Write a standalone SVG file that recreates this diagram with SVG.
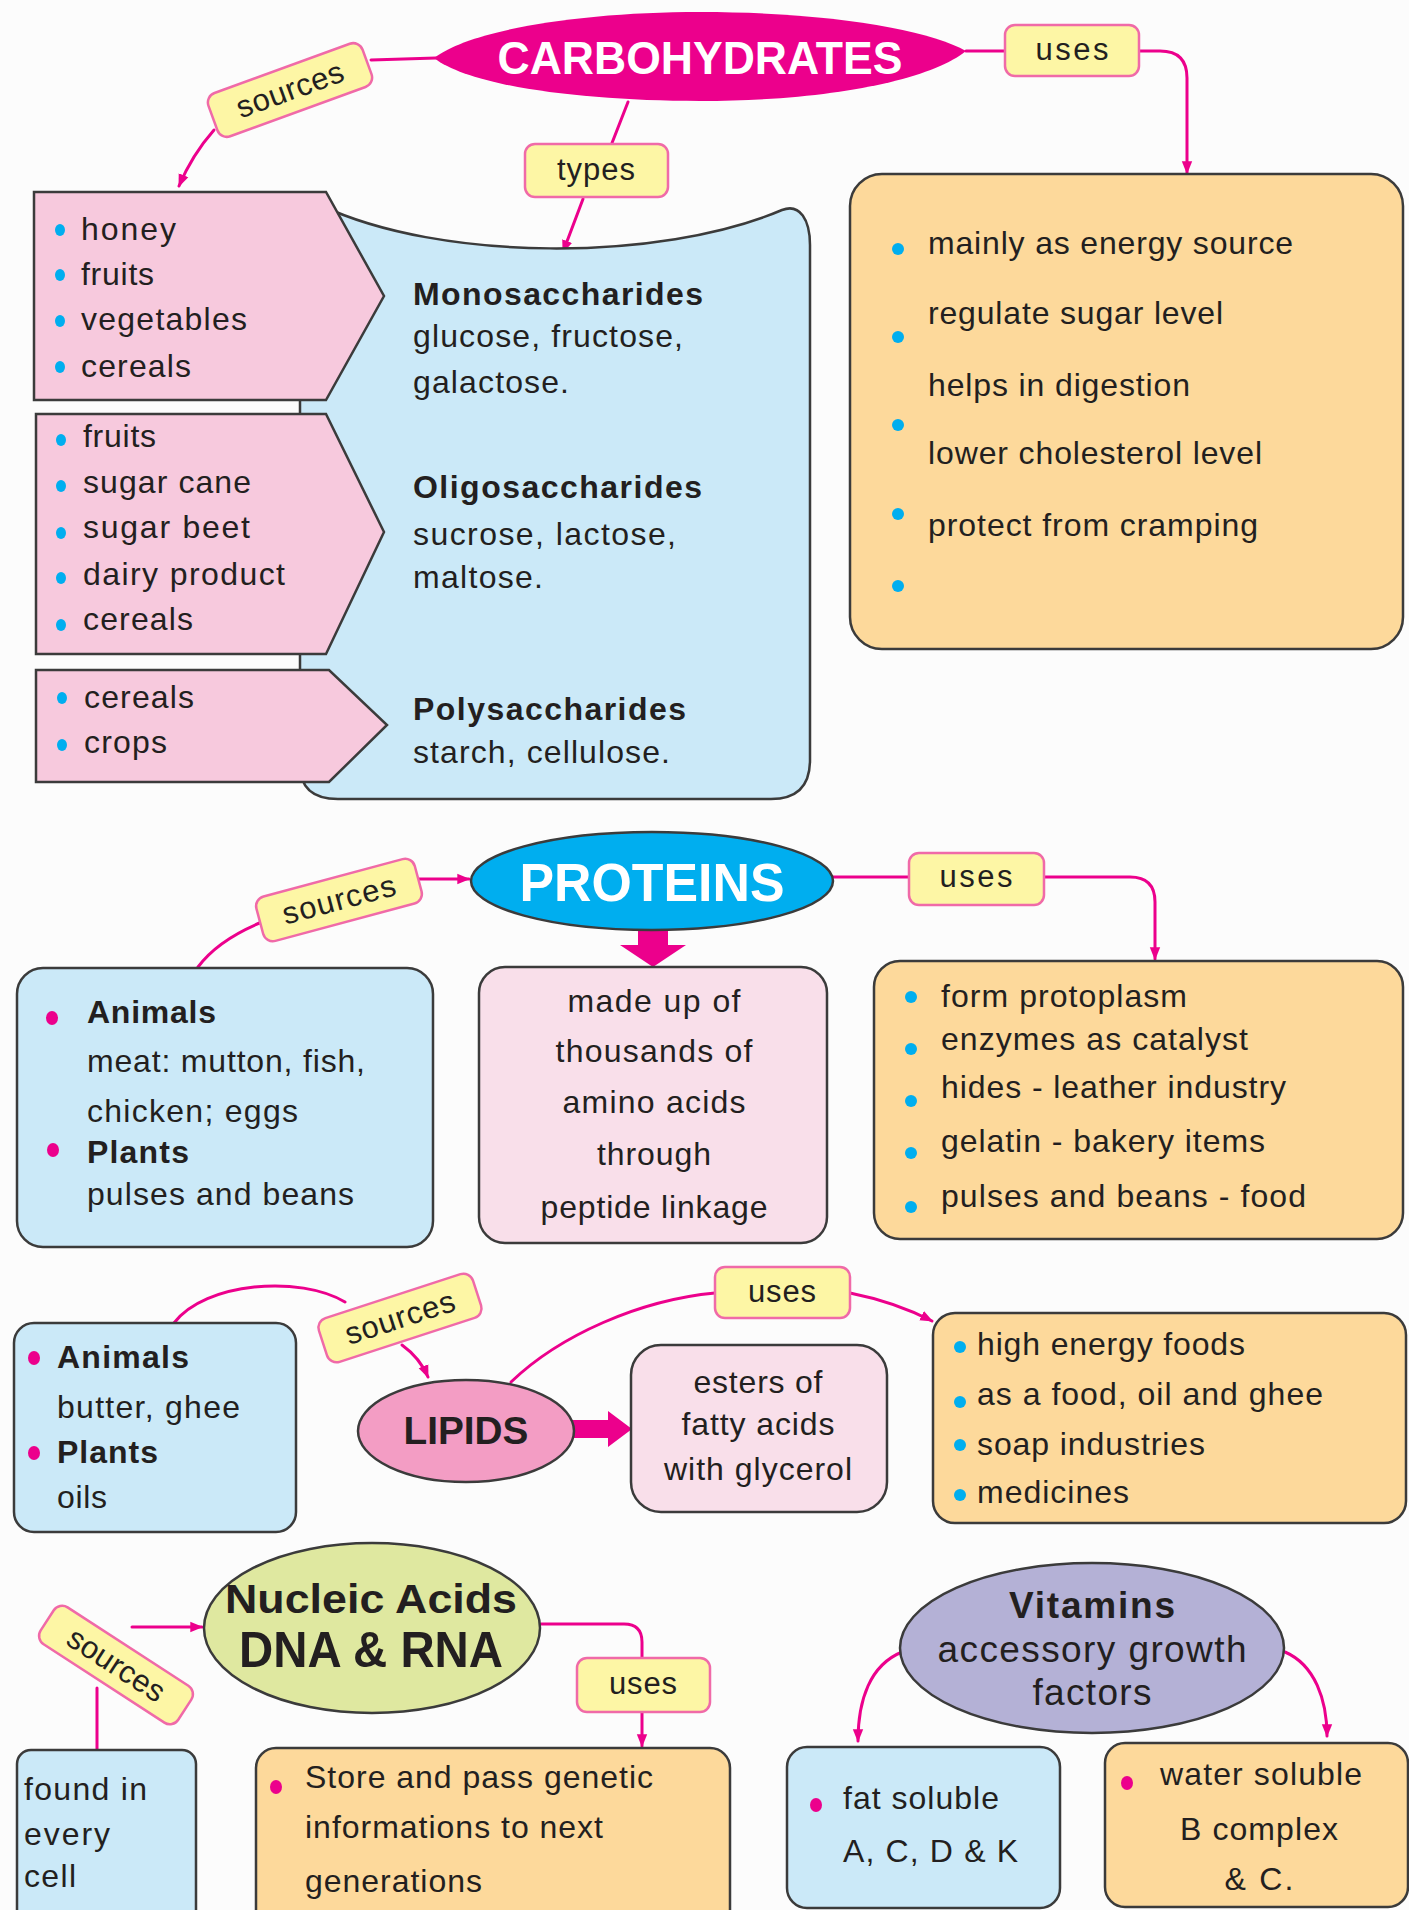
<svg xmlns="http://www.w3.org/2000/svg" width="1409" height="1910" viewBox="0 0 1409 1910">
<defs>
<style>
text { font-family: "Liberation Sans", Arial, Helvetica, sans-serif; fill:#231f20; }
.b { font-weight:bold; }
.c { text-anchor:middle; }
.s30 { font-size:32px; }
.s31 { font-size:32px; }
.conn { fill:none; stroke:#ec008c; stroke-width:3; stroke-linecap:round; }
.box { stroke:#3b3b3b; stroke-width:2.5; }
.blue { fill:#cbe9f8; }
.pink { fill:#f7c9dd; }
.lpink { fill:#f9dfea; }
.orange { fill:#fdd99b; }
.lbl rect { fill:#fdf6a5; stroke:#f06aa8; stroke-width:2.5; }
.lbl text { font-size:31px; text-anchor:middle; }
.cy { fill:#00aeef; }
.mg { fill:#ec008c; }
</style>
<marker id="ah" viewBox="0 0 10 10" refX="9" refY="5" markerWidth="13" markerHeight="13" markerUnits="userSpaceOnUse" orient="auto">
<path d="M0,1 L10,5 L0,9 Z" fill="#ec008c"/>
</marker>
</defs>
<rect width="1409" height="1910" fill="#fcfcfc"/>

<g id="connectors">
<path class="conn" d="M371,60 L436,58"/>
<path class="conn" d="M214,130 Q192,155 179,186" marker-end="url(#ah)"/>
<path class="conn" d="M628,102 L612,143"/>
<path class="conn" d="M583,199 L563,252" marker-end="url(#ah)"/>
<path class="conn" d="M966,51 L1005,51"/>
<path class="conn" d="M1139,51 L1160,51 Q1187,51 1187,78 L1187,173" marker-end="url(#ah)"/>
<path class="conn" d="M419,879 L469,879" marker-end="url(#ah)"/>
<path class="conn" d="M262,922 Q218,940 198,967"/>
<path class="conn" d="M832,877 L909,877"/>
<path class="conn" d="M1044,877 L1130,877 Q1155,877 1155,902 L1155,959" marker-end="url(#ah)"/>
<path class="mg" d="M638,929 L668,929 L668,945 L686,945 L653,967 L620,945 L638,945 Z"/>
<path class="conn" d="M174,1323 C205,1282 300,1275 345,1302"/>
<path class="conn" d="M402,1345 Q420,1358 428,1377" marker-end="url(#ah)"/>
<path class="conn" d="M511,1382 C560,1335 640,1300 715,1293"/>
<path class="conn" d="M850,1293 Q895,1302 932,1321" marker-end="url(#ah)"/>
<path class="mg" d="M572,1420 L608,1420 L608,1411 L632,1429 L608,1447 L608,1438 L572,1438 Z"/>
<path class="conn" d="M132,1627 L202,1627" marker-end="url(#ah)"/>
<path class="conn" d="M97,1688 L97,1750"/>
<path class="conn" d="M541,1624 L624,1624 Q642,1624 642,1642 L642,1658"/>
<path class="conn" d="M642,1712 L642,1746" marker-end="url(#ah)"/>
<path class="conn" d="M902,1652 C870,1665 858,1700 858,1741" marker-end="url(#ah)"/>
<path class="conn" d="M1285,1652 C1315,1665 1327,1700 1327,1736" marker-end="url(#ah)"/>
</g>

<g id="carbohydrates">
<path d="M434,58 C470,30 580,12 700,12 C830,12 930,30 966,51 C930,80 830,101 700,101 C580,101 470,86 434,58 Z" fill="#ec008c"/>
<text class="b c" x="700" y="74" font-size="46" textLength="405" lengthAdjust="spacingAndGlyphs" style="fill:#ffffff">CARBOHYDRATES</text>
</g>

<g id="carb-sources-label" class="lbl" transform="translate(290,90) rotate(-20)">
<rect x="-82" y="-23" width="164" height="46" rx="10"/>
<text y="10" textLength="112">sources</text>
</g>
<g id="carb-types-label" class="lbl">
<rect x="525" y="144" width="143" height="53" rx="10"/>
<text x="596" y="180" textLength="78">types</text>
</g>
<g id="carb-uses-label" class="lbl">
<rect x="1005" y="25" width="134" height="51" rx="10"/>
<text x="1072" y="60" textLength="73">uses</text>
</g>

<g id="carb-types">
<path class="box blue" d="M320,205 C440,262 660,262 782,210 C800,203 810,220 810,245 L810,760 Q810,799 771,799 L338,799 Q300,799 300,765 L300,205 Z"/>
<text class="b s31" x="413" y="305" textLength="290">Monosaccharides</text>
<text class="s31" x="413" y="347" textLength="270">glucose, fructose,</text>
<text class="s31" x="413" y="393" textLength="156">galactose.</text>
<text class="b s31" x="413" y="498" textLength="289">Oligosaccharides</text>
<text class="s31" x="413" y="545" textLength="263">sucrose, lactose,</text>
<text class="s31" x="413" y="588" textLength="130">maltose.</text>
<text class="b s31" x="413" y="720" textLength="273">Polysaccharides</text>
<text class="s31" x="413" y="763" textLength="257">starch, cellulose.</text>
</g>

<g id="carb-src-mono">
<path class="box pink" d="M34,192 L326,192 L384,296 L326,400 L34,400 Z"/>
<ellipse class="cy" cx="60" cy="230" rx="5" ry="6"/>
<ellipse class="cy" cx="60" cy="275" rx="5" ry="6"/>
<ellipse class="cy" cx="60" cy="321" rx="5" ry="6"/>
<ellipse class="cy" cx="60" cy="367" rx="5" ry="6"/>
<text class="s31" x="81" y="240" textLength="95">honey</text>
<text class="s31" x="81" y="285" textLength="73">fruits</text>
<text class="s31" x="81" y="330" textLength="166">vegetables</text>
<text class="s31" x="81" y="377" textLength="110">cereals</text>
</g>

<g id="carb-src-oligo">
<path class="box pink" d="M36,414 L326,414 L384,532 L326,654 L36,654 Z"/>
<ellipse class="cy" cx="61" cy="440" rx="5" ry="6"/>
<ellipse class="cy" cx="61" cy="486" rx="5" ry="6"/>
<ellipse class="cy" cx="61" cy="533" rx="5" ry="6"/>
<ellipse class="cy" cx="61" cy="578" rx="5" ry="6"/>
<ellipse class="cy" cx="61" cy="625" rx="5" ry="6"/>
<text class="s31" x="83" y="447" textLength="73">fruits</text>
<text class="s31" x="83" y="493" textLength="168">sugar cane</text>
<text class="s31" x="83" y="538" textLength="167">sugar beet</text>
<text class="s31" x="83" y="585" textLength="202">dairy product</text>
<text class="s31" x="83" y="630" textLength="110">cereals</text>
</g>

<g id="carb-src-poly">
<path class="box pink" d="M36,670 L329,670 L387,725 L329,782 L36,782 Z"/>
<ellipse class="cy" cx="62" cy="698" rx="5" ry="6"/>
<ellipse class="cy" cx="62" cy="745" rx="5" ry="6"/>
<text class="s31" x="84" y="708" textLength="110">cereals</text>
<text class="s31" x="84" y="753" textLength="83">crops</text>
</g>

<g id="carb-uses">
<rect class="box orange" x="850" y="174" width="553" height="475" rx="32"/>
<circle class="cy" cx="898" cy="249" r="6"/>
<circle class="cy" cx="898" cy="337" r="6"/>
<circle class="cy" cx="898" cy="425" r="6"/>
<circle class="cy" cx="898" cy="514" r="6"/>
<circle class="cy" cx="898" cy="586" r="6"/>
<text class="s30" x="928" y="254" textLength="365">mainly as energy source</text>
<text class="s30" x="928" y="324" textLength="295">regulate sugar level</text>
<text class="s30" x="928" y="396" textLength="262">helps in digestion</text>
<text class="s30" x="928" y="464" textLength="334">lower cholesterol level</text>
<text class="s30" x="928" y="536" textLength="330">protect from cramping</text>
</g>

<g id="proteins">
<ellipse class="box" cx="652" cy="881" rx="181" ry="49" fill="#00aeef"/>
<text class="b c" x="652" y="901" font-size="54" textLength="265" lengthAdjust="spacingAndGlyphs" style="fill:#ffffff">PROTEINS</text>
</g>
<g id="prot-sources-label" class="lbl" transform="translate(339,900) rotate(-15)">
<rect x="-82" y="-23" width="164" height="46" rx="10"/>
<text y="10" textLength="116">sources</text>
</g>
<g id="prot-uses-label" class="lbl">
<rect x="909" y="853" width="135" height="52" rx="10"/>
<text x="976" y="887" textLength="73">uses</text>
</g>

<g id="prot-sources">
<rect class="box blue" x="17" y="968" width="416" height="279" rx="26"/>
<ellipse class="mg" cx="52" cy="1018" rx="6" ry="7"/>
<ellipse class="mg" cx="53" cy="1150" rx="6" ry="7"/>
<text class="b s30" x="87" y="1023" textLength="129">Animals</text>
<text class="s30" x="87" y="1072" textLength="278">meat: mutton, fish,</text>
<text class="s30" x="87" y="1122" textLength="211">chicken; eggs</text>
<text class="b s30" x="87" y="1163" textLength="102">Plants</text>
<text class="s30" x="87" y="1205" textLength="267">pulses and beans</text>
</g>

<g id="prot-made">
<rect class="box lpink" x="479" y="967" width="348" height="276" rx="26"/>
<text class="s30 c" x="654" y="1012" textLength="173">made up of</text>
<text class="s30 c" x="654" y="1062" textLength="197">thousands of</text>
<text class="s30 c" x="654" y="1113" textLength="183">amino acids</text>
<text class="s30 c" x="654" y="1165" textLength="114">through</text>
<text class="s30 c" x="654" y="1218" textLength="227">peptide linkage</text>
</g>

<g id="prot-uses">
<rect class="box orange" x="874" y="961" width="529" height="278" rx="26"/>
<circle class="cy" cx="911" cy="997" r="6"/>
<circle class="cy" cx="911" cy="1049" r="6"/>
<circle class="cy" cx="911" cy="1101" r="6"/>
<circle class="cy" cx="911" cy="1153" r="6"/>
<circle class="cy" cx="911" cy="1207" r="6"/>
<text class="s30" x="941" y="1007" textLength="246">form protoplasm</text>
<text class="s30" x="941" y="1050" textLength="307">enzymes as catalyst</text>
<text class="s30" x="941" y="1098" textLength="345">hides - leather industry</text>
<text class="s30" x="941" y="1152" textLength="324">gelatin - bakery items</text>
<text class="s30" x="941" y="1207" textLength="365">pulses and beans - food</text>
</g>

<g id="lipids">
<ellipse class="box" cx="466" cy="1431" rx="108" ry="51" fill="#f39dc4"/>
<text class="b c" x="466" y="1444" font-size="38" textLength="125" lengthAdjust="spacingAndGlyphs">LIPIDS</text>
</g>
<g id="lip-sources-label" class="lbl" transform="translate(400,1318) rotate(-18)">
<rect x="-81" y="-23" width="162" height="46" rx="10"/>
<text y="10" textLength="114">sources</text>
</g>
<g id="lip-uses-label" class="lbl">
<rect x="715" y="1267" width="135" height="51" rx="10"/>
<text x="782" y="1302" textLength="68">uses</text>
</g>

<g id="lip-sources">
<rect class="box blue" x="14" y="1323" width="282" height="209" rx="20"/>
<ellipse class="mg" cx="34" cy="1358" rx="6" ry="7"/>
<ellipse class="mg" cx="34" cy="1453" rx="6" ry="7"/>
<text class="b s30" x="57" y="1368" textLength="132">Animals</text>
<text class="s30" x="57" y="1418" textLength="183">butter, ghee</text>
<text class="b s30" x="57" y="1463" textLength="101">Plants</text>
<text class="s30" x="57" y="1508" textLength="50">oils</text>
</g>

<g id="lip-esters">
<rect class="box lpink" x="631" y="1345" width="256" height="167" rx="30"/>
<text class="s30 c" x="758" y="1393" textLength="129">esters of</text>
<text class="s30 c" x="758" y="1435" textLength="153">fatty acids</text>
<text class="s30 c" x="758" y="1480" textLength="188">with glycerol</text>
</g>

<g id="lip-uses">
<rect class="box orange" x="933" y="1313" width="473" height="210" rx="22"/>
<circle class="cy" cx="960" cy="1347" r="6"/>
<circle class="cy" cx="960" cy="1402" r="6"/>
<circle class="cy" cx="960" cy="1445" r="6"/>
<circle class="cy" cx="960" cy="1495" r="6"/>
<text class="s30" x="977" y="1355" textLength="268">high energy foods</text>
<text class="s30" x="977" y="1405" textLength="346">as a food, oil and ghee</text>
<text class="s30" x="977" y="1455" textLength="228">soap industries</text>
<text class="s30" x="977" y="1503" textLength="152">medicines</text>
</g>

<g id="nucleic-acids">
<ellipse class="box" cx="372" cy="1628" rx="168" ry="85" fill="#dfe8a0"/>
<text class="b c" x="371" y="1613" font-size="40" textLength="292" lengthAdjust="spacingAndGlyphs">Nucleic Acids</text>
<text class="b c" x="371" y="1667" font-size="50" textLength="264" lengthAdjust="spacingAndGlyphs">DNA &amp; RNA</text>
</g>
<g id="nuc-sources-label" class="lbl" transform="translate(116,1665) rotate(33)">
<rect x="-82" y="-22" width="164" height="44" rx="10"/>
<text y="10" textLength="110">sources</text>
</g>
<g id="nuc-uses-label" class="lbl">
<rect x="577" y="1658" width="133" height="54" rx="10"/>
<text x="643" y="1694" textLength="68">uses</text>
</g>

<g id="nuc-found">
<rect class="box blue" x="17" y="1750" width="179" height="190" rx="14"/>
<text class="s31" x="24" y="1800" textLength="123">found in</text>
<text class="s31" x="24" y="1845" textLength="86">every</text>
<text class="s31" x="24" y="1887" textLength="52">cell</text>
</g>

<g id="nuc-store">
<rect class="box orange" x="256" y="1748" width="474" height="190" rx="20"/>
<ellipse class="mg" cx="276" cy="1787" rx="6" ry="7"/>
<text class="s30" x="305" y="1788" textLength="348">Store and pass genetic</text>
<text class="s30" x="305" y="1838" textLength="298">informations to next</text>
<text class="s30" x="305" y="1892" textLength="177">generations</text>
</g>

<g id="vitamins">
<ellipse class="box" cx="1092" cy="1648" rx="192" ry="85" fill="#b4b1d6"/>
<text class="b c" x="1092" y="1618" font-size="37" textLength="166">Vitamins</text>
<text class="c" x="1092" y="1662" font-size="37" textLength="309">accessory growth</text>
<text class="c" x="1092" y="1705" font-size="37" textLength="119">factors</text>
</g>

<g id="vit-fat">
<rect class="box blue" x="787" y="1747" width="273" height="161" rx="20"/>
<ellipse class="mg" cx="816" cy="1805" rx="6" ry="7"/>
<text class="s30" x="843" y="1809" textLength="156">fat soluble</text>
<text class="s30" x="843" y="1862" textLength="175">A, C, D &amp; K</text>
</g>

<g id="vit-water">
<rect class="box orange" x="1105" y="1743" width="303" height="164" rx="20"/>
<ellipse class="mg" cx="1127" cy="1783" rx="6" ry="7"/>
<text class="s30" x="1160" y="1785" textLength="202">water soluble</text>
<text class="s30 c" x="1259" y="1840" textLength="158">B complex</text>
<text class="s30 c" x="1259" y="1890" textLength="69">&amp; C.</text>
</g>
</svg>
